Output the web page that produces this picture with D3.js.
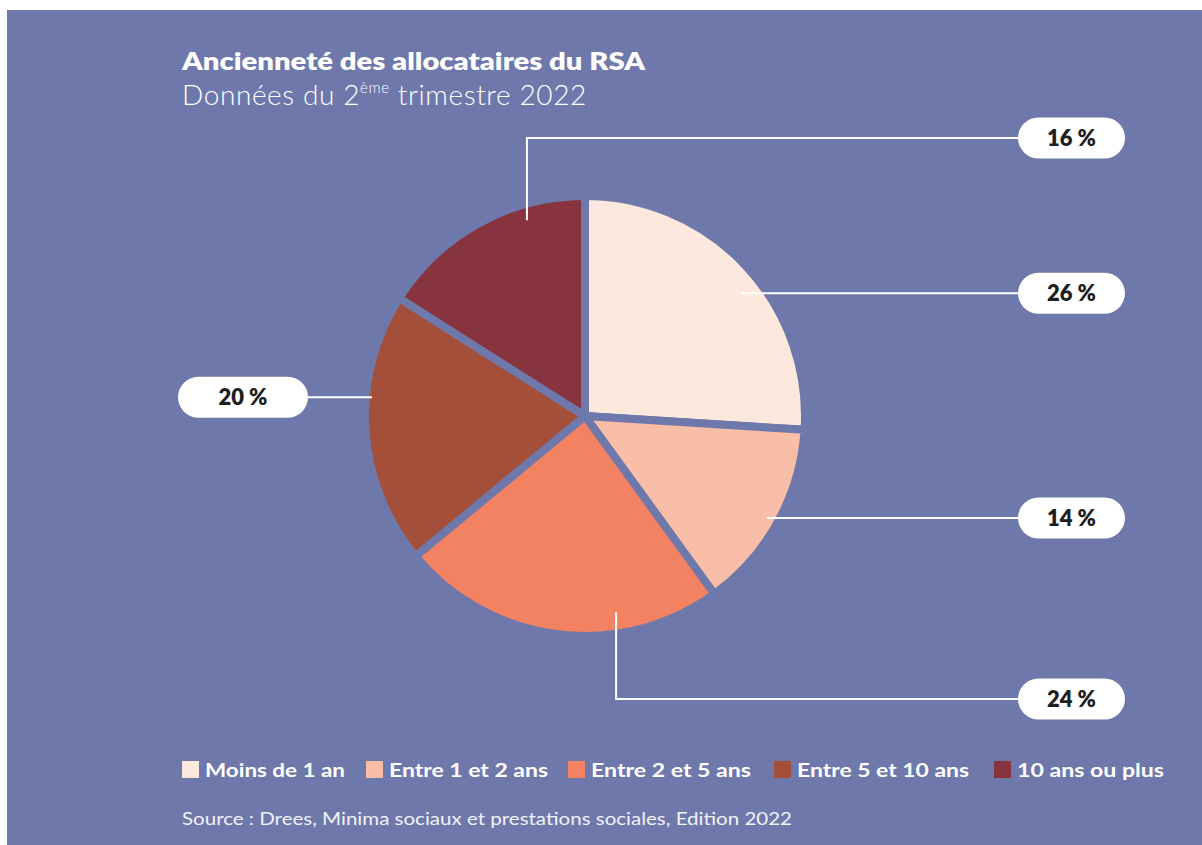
<!DOCTYPE html>
<html>
<head>
<meta charset="utf-8">
<script src="https://cdn.jsdelivr.net/npm/d3@7"></script>
<style>
	body { margin: 0; background: #fff; }
	svg { display: block; }
	text { font-family: Lato, "Open Sans", sans-serif; }
</style>
</head>
<body>
<svg id="chart" width="1202" height="845"></svg>
<script>
// data
const categories = ["Moins de 1 an", "Entre 1 et 2 ans", "Entre 2 et 5 ans", "Entre 5 et 10 ans", "10 ans ou plus"];
const shares = [26, 14, 24, 20, 16];
const colors = ["#fde8de", "#f9bea7", "#f38262", "#a34f3a", "#88343e"];

// where each leader line starts inside its slice (t = fraction of the slice angle, rf = fraction of radius)
// and where its label sits
const leaderLayout = [
	{t: 0.554, rf: 0.92, side: "right", labelY: null},
	{t: 0.51, rf: 0.965, side: "right", labelY: null},
	{t: 0.3125, rf: 0.92, side: "right", labelY: 699},
	{t: 0.62, rf: 0.99, side: "left", labelY: null},
	{t: 0.713, rf: 0.945, side: "right", labelY: 138}
];

var svg = d3.select("#chart");
var bg = "#6e78ab";

svg.append("rect")
	.attr("x", 7).attr("y", 10)
	.attr("width", 1202 - 7).attr("height", 845 - 10)
	.attr("fill", bg);

// title
svg.append("text")
	.attr("x", 182).attr("y", 70)
	.attr("fill", "#fff")
	.attr("font-family", "'Open Sans', sans-serif")
	.attr("font-size", 24)
	.attr("font-weight", 800)
	.attr("textLength", 463)
	.attr("lengthAdjust", "spacingAndGlyphs")
	.text("Ancienneté des allocataires du RSA");

var sub = svg.append("text")
	.attr("x", 182).attr("y", 105)
	.attr("fill", "#fff")
	.attr("font-size", 28)
	.attr("font-weight", 300)
	.attr("letter-spacing", 0.6);
sub.append("tspan").text("Données du 2");
sub.append("tspan").attr("font-size", 15).attr("dy", -12).text("ème");
sub.append("tspan").attr("dy", 12).text(" trimestre 2022");

//---------------------------------  pie  ---------------------------------------

var cx = 585, cy = 416, r = 216, gap = 8;

var pie = d3.pie().sort(null).value(function(d) { return d; });
var arcs = pie(shares);

var arc = d3.arc()
	.innerRadius(0)
	.outerRadius(r + gap / 2);

var g = svg.append("g").attr("transform", "translate(" + cx + "," + cy + ")");

g.selectAll("path")
	.data(arcs)
	.enter().append("path")
	.attr("d", arc)
	.attr("fill", function(d, i) { return colors[i]; })
	.attr("stroke", bg)
	.attr("stroke-width", gap)
	.attr("stroke-linejoin", "round");

// leaders + pills
var pillH = 41;
arcs.forEach(function(d, i) {
	var lay = leaderLayout[i];
	var a = d.startAngle + lay.t * (d.endAngle - d.startAngle);
	var ax = cx + r * lay.rf * Math.sin(a);
	var ay = cy - r * lay.rf * Math.cos(a);
	var ly = lay.labelY == null ? ay : lay.labelY;
	var pillW = lay.side == "right" ? 107 : 130;
	var pillX = lay.side == "right" ? 1018 : 178;
	var endX = lay.side == "right" ? pillX : pillX + pillW;

	var pts = [[ax, ay]];
	if (Math.abs(ly - ay) > 1) pts.push([ax, ly]);
	pts.push([endX, ly]);

	svg.append("path")
		.attr("d", d3.line()(pts))
		.attr("fill", "none")
		.attr("stroke", "#fff")
		.attr("stroke-width", 2);

	svg.append("rect")
		.attr("x", pillX).attr("y", ly - pillH / 2)
		.attr("width", pillW).attr("height", pillH)
		.attr("rx", pillH / 2)
		.attr("fill", "#fff");

	svg.append("text")
		.attr("x", pillX + pillW / 2).attr("y", ly)
		.attr("dy", "0.36em")
		.attr("text-anchor", "middle")
		.attr("font-family", "'Open Sans', sans-serif")
		.attr("font-size", 22)
		.attr("font-weight", 800)
		.attr("fill", "#1e1e1e")
		.text(shares[i] + " %");
});

//---------------------------------  legend  ---------------------------------------

var legendX = [182, 366, 568, 774, 994];
var legendW = [140, 159, 160, 172, 147];

var lg = svg.append("g");
categories.forEach(function(c, i) {
	lg.append("rect")
		.attr("x", legendX[i]).attr("y", 761)
		.attr("width", 17).attr("height", 17)
		.attr("fill", colors[i]);
	lg.append("text")
		.attr("x", legendX[i] + 23).attr("y", 777)
		.attr("fill", "#fff")
		.attr("font-size", 19)
		.attr("font-weight", 700)
		.attr("textLength", legendW[i])
		.attr("lengthAdjust", "spacingAndGlyphs")
		.text(c);
});

svg.append("text")
	.attr("x", 182).attr("y", 825)
	.attr("fill", "#f2f2f7")
	.attr("font-family", "'Open Sans', sans-serif")
	.attr("font-size", 17)
	.attr("textLength", 610)
	.attr("lengthAdjust", "spacingAndGlyphs")
	.text("Source : Drees, Minima sociaux et prestations sociales, Edition 2022");
</script>
</body>
</html>
